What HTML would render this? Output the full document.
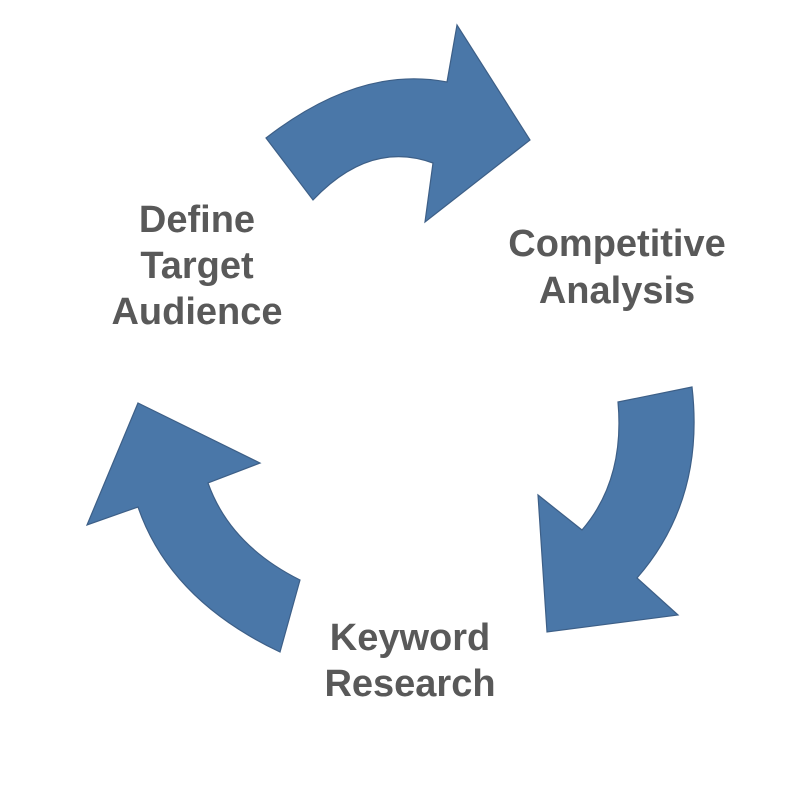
<!DOCTYPE html>
<html><head><style>html,body{margin:0;padding:0;background:#fff}svg{display:block}</style></head>
<body>
<svg width="800" height="794" viewBox="0 0 800 794" xmlns="http://www.w3.org/2000/svg">
<g fill="#4a77a8" stroke="#3d5f87" stroke-width="1.2" stroke-linejoin="miter">
<path d="M266,138 Q360,65 447,82 L457,25 L530,140 L425,222 L433,163 Q370,140 313,200 Z"/>
<path d="M618,402 L692,387 Q705,500 637,578 L678,615 L547,632 L538,495 L582,530 Q625,480 618,402 Z"/>
<path d="M138,403 L260,463 L208,483 Q230,545 300,580 L280,652 Q170,600 138,507 L87,525 Z"/>
</g>
<g font-family="Liberation Sans, sans-serif" font-weight="bold" font-size="38" fill="#595959" text-anchor="middle">
<text x="197" y="232">Define</text>
<text x="197" y="278">Target</text>
<text x="197" y="324">Audience</text>
<text x="617" y="256">Competitive</text>
<text x="617" y="303">Analysis</text>
<text x="410" y="650">Keyword</text>
<text x="410" y="696">Research</text>
</g>
</svg>
</body></html>
